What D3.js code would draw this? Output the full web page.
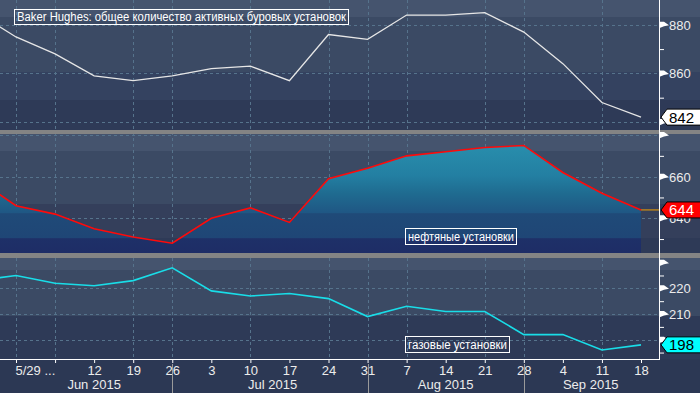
<!DOCTYPE html>
<html>
<head>
<meta charset="utf-8">
<script src="https://cdn.jsdelivr.net/npm/d3@7"></script>
<style>
  body { margin: 0; background: #2c3854; }
  svg { display: block; }
  text { font-family: "Liberation Sans", Arial, sans-serif; }
</style>
</head>
<body>
<svg id="chart" width="700" height="393"></svg>
<script>
// weekly Baker Hughes rig counts (Fridays)
const dates = ["2015-05-22", "2015-05-29", "2015-06-05", "2015-06-12", "2015-06-19", "2015-06-26",
  "2015-07-03", "2015-07-10", "2015-07-17", "2015-07-24", "2015-07-31", "2015-08-07",
  "2015-08-14", "2015-08-21", "2015-08-28", "2015-09-04", "2015-09-11", "2015-09-18"];
const totalRigs = [885, 875, 868, 859, 857, 859, 862, 863, 857, 876, 874, 884, 884, 885, 877, 864, 848, 842];
const oilRigs = [659, 646, 642, 635, 631, 628, 640, 645, 638, 659, 664, 670, 672, 674, 675, 662, 652, 644];
const gasRigs = [223, 225, 222, 221, 223, 228, 219, 217, 218, 216, 209, 213, 211, 211, 202, 202, 196, 198];

const tickDates = dates.slice(1);
const gridDates = ["2015-05-29", "2015-06-05", "2015-06-19", "2015-06-26", "2015-07-10", "2015-07-24",
  "2015-07-31", "2015-08-07", "2015-08-21", "2015-08-28", "2015-09-11"];
const monthLabels = ["Jun 2015", "Jul 2015", "Aug 2015", "Sep 2015"];
const monthCenters = ["2015-06-12", "2015-07-14", "2015-08-14", "2015-09-09"];
const monthSeps = ["2015-06-26", "2015-07-31", "2015-08-28"];

const titleText = "Baker Hughes: общее количество активных буровых установок";
const oilText = "нефтяные установки";
const gasText = "газовые установки";

const parse = d3.utcParse("%Y-%m-%d");
const svg = d3.select("#chart");
const W = 700, plotR = 659;

// panels
const panels = [
  { top: 0, bottom: 130, domain: [836.7, 890.2], major: [880, 860, 840], labels: [880, 860], minor: [870, 850], grid: [880, 860, 840] },
  { top: 134, bottom: 253, domain: [623.3, 680.5], major: [680, 660, 640], labels: [660, 640], minor: [670, 650, 630], grid: [680, 660, 640] },
  { top: 258, bottom: 359, domain: [192.5, 231.8], major: [230, 220, 210, 200], labels: [220, 210], minor: [225, 215, 205, 195], grid: [220, 210, 200] }
];
panels.forEach(p => { p.y = d3.scaleLinear().domain(p.domain).range([p.bottom, p.top]); });

const x = d3.scaleUtc().domain([parse("2015-05-29"), parse("2015-09-18")]).range([16, 641]);

// background bands per panel
const bands = [
  [0, 17, "#45546e"], [17, 72, "#3b4a64"], [72, 100, "#344260"], [100, 130, "#2e3a57"],
  [134, 151, "#45546e"], [151, 204, "#3b4a64"], [204, 238, "#343f5b"], [238, 253, "#2e3a57"],
  [258, 270, "#45546e"], [270, 316, "#3b4a64"], [316, 359, "#2e3a57"], [359, 393, "#2c3854"]
];
svg.selectAll("rect.band").data(bands).enter().append("rect")
  .attr("x", 0).attr("width", W)
  .attr("y", d => d[0]).attr("height", d => d[1] - d[0])
  .attr("fill", d => d[2]);

// gradient for oil fill (banded)
const defs = svg.append("defs");
const grad = defs.append("linearGradient").attr("id", "oilFill")
  .attr("gradientUnits", "userSpaceOnUse").attr("x1", 0).attr("x2", 0).attr("y1", 134).attr("y2", 253);
[[0, "#2a93b0"], [0.35, "#237fa2"], [0.5, "#1f6b90"], [0.66, "#1f5784"], [0.67, "#1f4a78"],
 [0.87, "#1f4676"], [0.88, "#1e3068"], [1, "#1e2d66"]]
  .forEach(s => grad.append("stop").attr("offset", s[0]).attr("stop-color", s[1]));

panels.forEach((p, i) => {
  defs.append("clipPath").attr("id", "clip" + i).append("rect")
    .attr("x", 0).attr("y", p.top).attr("width", plotR).attr("height", p.bottom - p.top);
});

// gridlines
const gridColor = "#56738c";
panels.forEach(p => {
  svg.append("g").selectAll("line").data(p.grid).enter().append("line")
    .attr("x1", 0).attr("x2", plotR)
    .attr("y1", d => Math.round(p.y(d)) + 0.5).attr("y2", d => Math.round(p.y(d)) + 0.5)
    .attr("stroke", gridColor).attr("stroke-dasharray", "3,3");
});
svg.append("g").selectAll("line").data(gridDates).enter().append("line")
  .attr("x1", d => Math.round(x(parse(d))) + 0.5).attr("x2", d => Math.round(x(parse(d))) + 0.5)
  .attr("y1", 0).attr("y2", 359)
  .attr("stroke", gridColor).attr("stroke-dasharray", "3,3");

// oil area
const pts = (vals, p) => vals.map((v, i) => [x(parse(dates[i])), p.y(v)]);
const oilPts = pts(oilRigs, panels[1]);
svg.append("path").attr("clip-path", "url(#clip1)")
  .attr("d", d3.area().x(d => d[0]).y0(253).y1(d => d[1])(oilPts))
  .attr("fill", "url(#oilFill)");

// last-value orange guide in oil panel
svg.append("line")
  .attr("x1", x(parse(dates[dates.length - 1]))).attr("x2", plotR)
  .attr("y1", panels[1].y(oilRigs[oilRigs.length - 1])).attr("y2", panels[1].y(oilRigs[oilRigs.length - 1]))
  .attr("stroke", "#f0a000").attr("stroke-width", 1);

// lines
const line = d3.line();
svg.append("path").attr("clip-path", "url(#clip0)")
  .attr("d", line(pts(totalRigs, panels[0])))
  .attr("fill", "none").attr("stroke", "#e6e6e6").attr("stroke-width", 1.3);
svg.append("path").attr("clip-path", "url(#clip1)")
  .attr("d", line(oilPts))
  .attr("fill", "none").attr("stroke", "#ff0a0a").attr("stroke-width", 1.6);
svg.append("path").attr("clip-path", "url(#clip2)")
  .attr("d", line(pts(gasRigs, panels[2])))
  .attr("fill", "none").attr("stroke", "#19dde8").attr("stroke-width", 1.6);

// panel separators
[[130, 134], [253, 258]].forEach(s => {
  svg.append("rect").attr("x", 0).attr("width", W).attr("y", s[0]).attr("height", s[1] - s[0])
    .attr("fill", "#848484");
});

// right axes
panels.forEach(p => {
  const g = svg.append("g").attr("transform", `translate(${plotR},0)`);
  g.call(d3.axisRight(p.y).tickValues(p.minor).tickSize(5).tickFormat(""));
  const mg = svg.append("g").attr("transform", `translate(${plotR},0)`);
  mg.call(d3.axisRight(p.y).tickValues(p.major).tickSize(0).tickPadding(10)
    .tickFormat(d => p.labels.includes(d) ? d : ""));
  mg.selectAll(".tick").append("path")
    .attr("d", "M0,-3.5 L5,-3.5 L10,0 L5,1 L0,3 Z").attr("fill", "#ffffff");
  [g, mg].forEach(a => a.select(".domain").remove());
  g.selectAll("line").attr("stroke", "#ffffff");
  mg.selectAll("text").attr("fill", "#ececec").attr("font-size", 13)
    .attr("font-family", "Liberation Sans, Arial, sans-serif").attr("dy", "0.35em");
});
svg.append("line").attr("x1", plotR + 0.5).attr("x2", plotR + 0.5).attr("y1", 0).attr("y2", 359)
  .attr("stroke", "#ffffff");

// x axis
const xg = svg.append("g").attr("transform", "translate(0,359)");
xg.call(d3.axisBottom(x).tickValues(tickDates.map(parse)).tickSize(4).tickPadding(3)
  .tickFormat(d => d3.utcFormat("%-d")(d)));
xg.select(".domain").remove();
xg.selectAll("line").attr("stroke", "#ffffff");
xg.selectAll("text").attr("fill", "#ececec").attr("font-size", 13)
  .attr("font-family", "Liberation Sans, Arial, sans-serif");
// first two labels merge into "5/29 ..."
xg.selectAll(".tick text").filter((d, i) => i === 1).text("");
xg.selectAll(".tick text").filter((d, i) => i === 0).text("5/29 ...")
  .attr("text-anchor", "start").attr("x", -1);
svg.append("line").attr("x1", 0).attr("x2", plotR + 1).attr("y1", 359.5).attr("y2", 359.5)
  .attr("stroke", "#ffffff");

svg.append("g").selectAll("line").data(monthSeps).enter().append("line")
  .attr("x1", d => Math.round(x(parse(d))) + 0.5).attr("x2", d => Math.round(x(parse(d))) + 0.5)
  .attr("y1", 364).attr("y2", 393).attr("stroke", "#9a9a9a");
svg.append("g").selectAll("text").data(monthLabels).enter().append("text")
  .attr("x", (d, i) => x(parse(monthCenters[i])))
  .attr("y", 389).attr("text-anchor", "middle")
  .attr("fill", "#ececec").attr("font-size", 13).text(d => d);

// boxed annotations
function boxLabel(txt, x0, y0, w, h, size) {
  const g = svg.append("g");
  g.append("rect").attr("x", x0 + 0.5).attr("y", y0 + 0.5).attr("width", w).attr("height", h)
    .attr("fill", "none").attr("stroke", "#ffffff").attr("stroke-width", 1);
  g.append("text").attr("x", x0 + 3).attr("y", y0 + h / 2 + 0.5).attr("dy", "0.35em")
    .attr("fill", "#ffffff").attr("font-size", size)
    .attr("textLength", w - 5).attr("lengthAdjust", "spacingAndGlyphs").text(txt);
}
boxLabel(titleText, 14, 9, 334, 15, 12);
boxLabel(oilText, 405, 228, 111, 16, 12);
boxLabel(gasText, 405, 336, 104, 16, 12);

// last-value tags
const tags = [
  { v: totalRigs[totalRigs.length - 1], p: panels[0], fill: "#ffffff", color: "#000000" },
  { v: oilRigs[oilRigs.length - 1], p: panels[1], fill: "#ff0000", color: "#ffffff" },
  { v: gasRigs[gasRigs.length - 1], p: panels[2], fill: "#00ffff", color: "#000000" }
];
tags.forEach(t => {
  const cy = t.p.y(t.v);
  const g = svg.append("g").attr("transform", `translate(661,${cy})`);
  g.append("path").attr("d", "M0,0 L6,-8 L45,-8 L45,8 L6,8 Z")
    .attr("fill", t.fill).attr("stroke", "#000000").attr("stroke-width", 1);
  g.append("text").attr("x", 8).attr("dy", "0.36em")
    .attr("fill", t.color).attr("font-size", 15).text(t.v);
});
</script>
</body>
</html>
